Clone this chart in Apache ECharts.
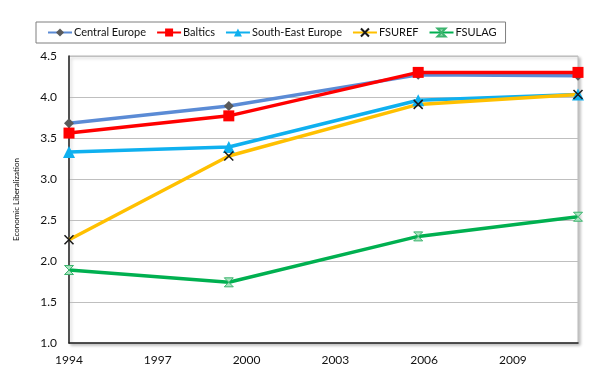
<!DOCTYPE html>
<html><head><meta charset="utf-8">
<script src="https://cdn.jsdelivr.net/npm/echarts@6/dist/echarts.min.js"></script>
<style>html,body{margin:0;padding:0;background:#fff}#c{width:600px;height:391px}</style>
</head><body><div id="c"></div>
<script>
const years = [1994, 1999.4, 2005.8, 2011.2];
const xTickLabels = [1994, 1997, 2000, 2003, 2006, 2009];
const yTicks = [1.0, 1.5, 2.0, 2.5, 3.0, 3.5, 4.0, 4.5];
const centralEurope = [3.68, 3.89, 4.27, 4.26];
const baltics = [3.56, 3.77, 4.30, 4.30];
const southEastEurope = [3.33, 3.39, 3.96, 4.03];
const fsuref = [2.26, 3.28, 3.91, 4.03];
const fsulag = [1.89, 1.74, 2.30, 2.54];
const seriesNames = ['Central Europe', 'Baltics', 'South-East Europe', 'FSUREF', 'FSULAG'];

const pair = arr => arr.map((v, i) => [years[i], v]);
const FONT = 'Lato, "Open Sans", sans-serif';

const styles = [
  {line: '#5B8BD5', symbol: 'diamond', size: 10, item: {color: '#5A5A5A'}},
  {line: '#FF0000', symbol: 'rect', size: 11, item: {color: '#FF0000'}},
  {line: '#0FB0EF', symbol: 'triangle', size: 12, item: {color: '#0FB0EF'}},
  {line: '#FFC000', symbol: 'path://M0,0L10,10M10,0L0,10', size: 9, item: {color: 'rgba(0,0,0,0)', borderColor: '#1a1a1a', borderWidth: 1.5}},
  {line: '#00B050', symbol: 'path://M0,0L10,0L5,5L10,10L0,10L5,5Z', size: 9, item: {color: '#A8E4BF', borderColor: '#3CB46E', borderWidth: 1}}
];
const dataSets = [centralEurope, baltics, southEastEurope, fsuref, fsulag];

const chart = echarts.init(document.getElementById('c'), null, {renderer: 'canvas'});
chart.setOption({
  animation: false,
  backgroundColor: '#fff',
  legend: {
    left: 36, top: 22,
    borderColor: '#7F7F7F', borderWidth: 1, padding: [5, 9, 5, 11],
    itemWidth: 24, itemHeight: 10, itemGap: 10,
    textStyle: {fontFamily: FONT, fontSize: 11, color: '#111', padding: [0, 0, 0, -3]},
    data: seriesNames
  },
  grid: {left: 69, right: 22, top: 56, bottom: 48, show: true, borderColor: '#BDBDBD', borderWidth: 1,
    shadowColor: 'rgba(0,0,0,0.25)', shadowBlur: 3, shadowOffsetX: 2, shadowOffsetY: 2, backgroundColor: '#fff'},
  xAxis: {
    type: 'value', min: years[0], max: years[years.length - 1],
    axisLine: {show: true, lineStyle: {color: '#222', width: 1.5}},
    axisTick: {show: false},
    splitLine: {show: false},
    axisLabel: {customValues: xTickLabels, margin: 11, fontFamily: FONT, fontSize: 12, color: '#111',
      formatter: v => String(Math.round(v))}
  },
  yAxis: {
    type: 'value', min: yTicks[0], max: yTicks[yTicks.length - 1], interval: 0.5,
    name: 'Economic Liberalization', nameLocation: 'middle', nameGap: 49,
    nameTextStyle: {fontFamily: FONT, fontSize: 8, color: '#111'},
    axisLine: {show: true, lineStyle: {color: '#222', width: 1.5}},
    axisTick: {show: false},
    splitLine: {show: true, lineStyle: {color: '#BFBFBF', width: 1}},
    axisLabel: {margin: 12, fontFamily: FONT, fontSize: 12, color: '#111', formatter: v => v.toFixed(1)}
  },
  series: seriesNames.map((n, i) => ({
    name: n, type: 'line', data: pair(dataSets[i]),
    symbol: styles[i].symbol, symbolSize: styles[i].size,
    showAllSymbol: true, clip: false,
    lineStyle: {color: styles[i].line, width: 3.5},
    itemStyle: Object.assign({}, styles[i].item),
    z: [2, 3, 2, 2, 2][i]
  }))
});
</script></body></html>
